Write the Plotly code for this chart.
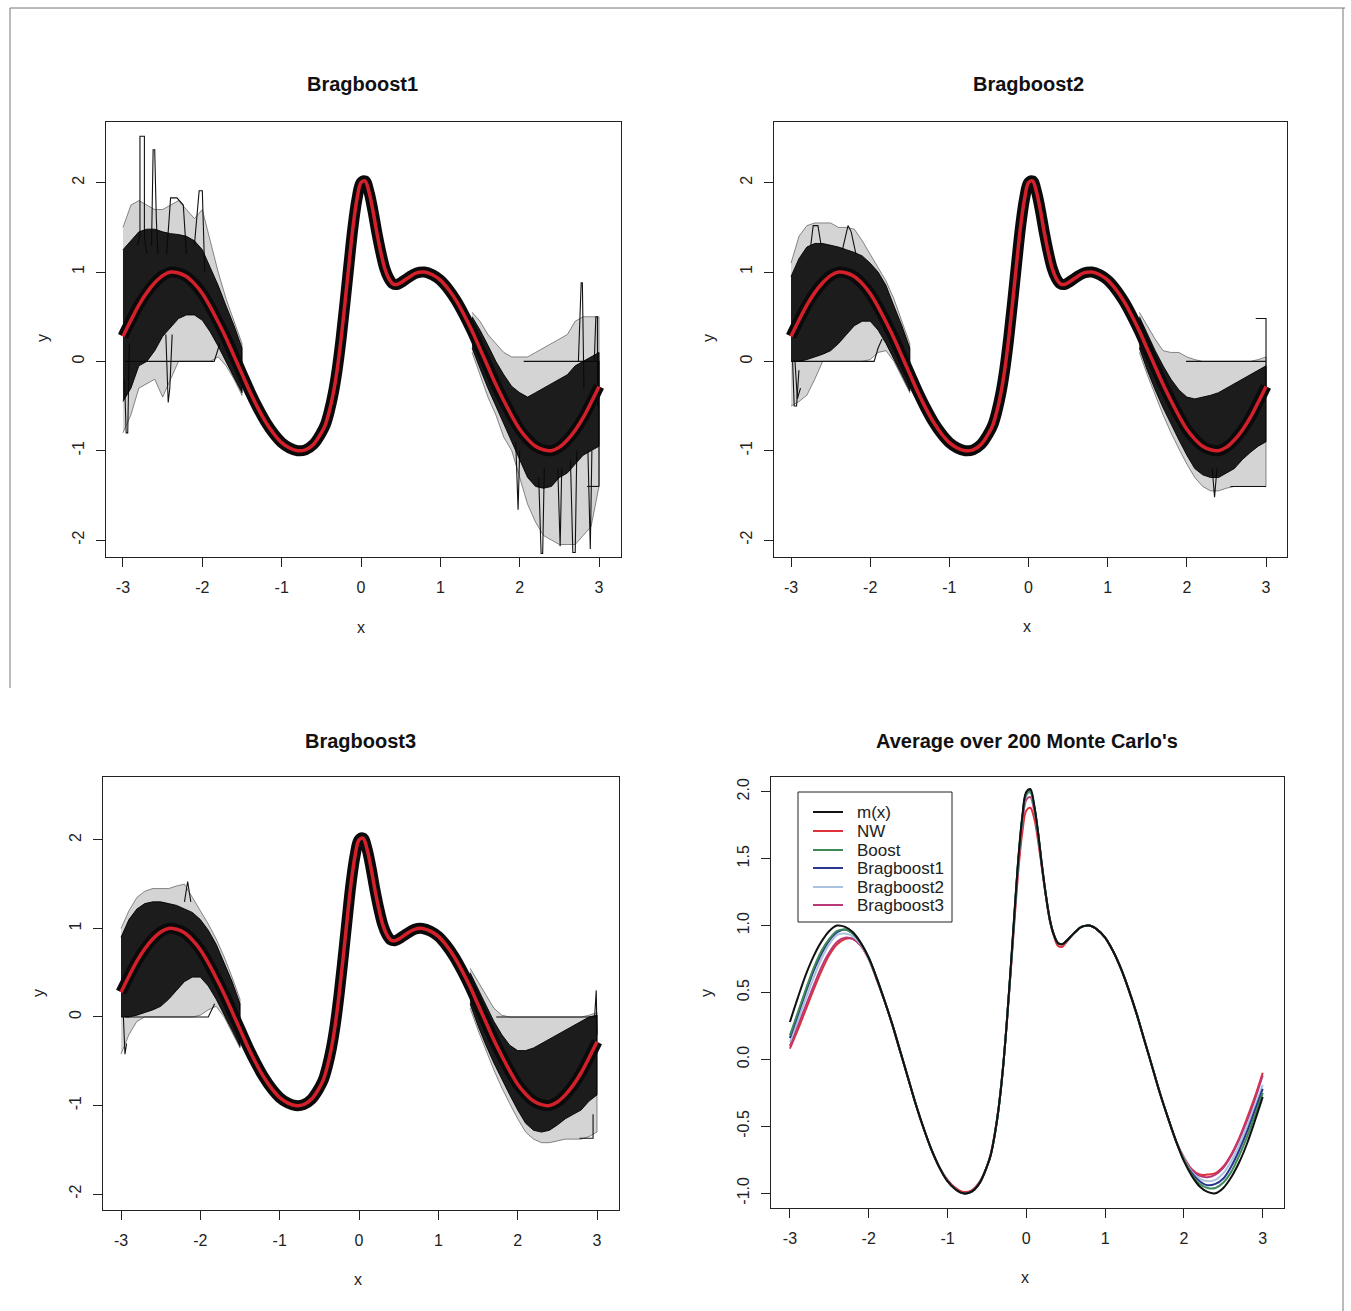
import plotly.graph_objects as go

# ---------------- data ----------------
x_grid = [-3.0, -2.9, -2.8, -2.7, -2.6, -2.5, -2.4, -2.3, -2.2, -2.1, -2.0, -1.9, -1.8, -1.7,
          -1.6, -1.5, -1.4, -1.3, -1.2, -1.1, -1.0, -0.9, -0.8, -0.7, -0.6,
          -0.5, -0.45, -0.4, -0.35, -0.3, -0.25, -0.2, -0.15, -0.1, -0.05, 0.0, 0.05, 0.1, 0.15,
          0.2, 0.25, 0.3, 0.35, 0.4, 0.45, 0.5,
          0.6, 0.7, 0.8, 0.9, 1.0, 1.1, 1.2, 1.3, 1.4, 1.5, 1.6, 1.7, 1.8, 1.9, 2.0, 2.1, 2.2,
          2.3, 2.4, 2.5, 2.6, 2.7, 2.8, 2.9, 3.0]

m_x = [0.28, 0.46, 0.63, 0.77, 0.88, 0.96, 1.00, 0.99, 0.95, 0.87, 0.76, 0.61, 0.44, 0.26,
       0.06, -0.14, -0.34, -0.52, -0.68, -0.81, -0.91, -0.97, -1.00, -0.99, -0.93,
       -0.80, -0.71, -0.56, -0.36, -0.09, 0.26, 0.67, 1.10, 1.51, 1.82, 2.00, 2.02, 1.90, 1.69,
       1.44, 1.22, 1.04, 0.93, 0.87, 0.86, 0.88,
       0.94, 0.99, 1.00, 0.97, 0.91, 0.81, 0.68, 0.52, 0.34, 0.14, -0.06, -0.26, -0.44, -0.61,
       -0.76, -0.87, -0.95, -0.99, -1.00, -0.96, -0.88, -0.77, -0.63, -0.46, -0.28]

nw = [0.08, 0.22, 0.37, 0.52, 0.66, 0.78, 0.86, 0.90, 0.90, 0.85, 0.75, 0.60, 0.44, 0.26,
      0.06, -0.14, -0.34, -0.52, -0.68, -0.81, -0.90, -0.96, -0.99, -0.98, -0.92,
      -0.80, -0.70, -0.55, -0.35, -0.08, 0.25, 0.64, 1.04, 1.42, 1.70, 1.86, 1.88, 1.80, 1.63,
      1.42, 1.21, 1.03, 0.92, 0.85, 0.84, 0.87,
      0.94, 0.99, 1.00, 0.97, 0.91, 0.81, 0.68, 0.52, 0.34, 0.14, -0.06, -0.26, -0.44, -0.61,
      -0.73, -0.82, -0.86, -0.86, -0.85, -0.80, -0.71, -0.59, -0.44, -0.28, -0.10]

boost = [0.18, 0.35, 0.52, 0.68, 0.81, 0.90, 0.96, 0.97, 0.94, 0.87, 0.76, 0.61, 0.44, 0.26,
         0.06, -0.14, -0.34, -0.52, -0.68, -0.81, -0.91, -0.97, -1.00, -0.99, -0.93,
         -0.80, -0.71, -0.56, -0.36, -0.09, 0.26, 0.66, 1.09, 1.50, 1.81, 1.98, 2.00, 1.89, 1.69,
         1.44, 1.22, 1.04, 0.93, 0.87, 0.86, 0.88,
         0.94, 0.99, 1.00, 0.97, 0.91, 0.81, 0.68, 0.52, 0.34, 0.14, -0.06, -0.26, -0.44, -0.61,
         -0.75, -0.86, -0.93, -0.96, -0.96, -0.92, -0.84, -0.72, -0.58, -0.42, -0.25]

brag1 = [0.16, 0.33, 0.50, 0.66, 0.79, 0.89, 0.95, 0.97, 0.94, 0.87, 0.76, 0.61, 0.44, 0.26,
         0.06, -0.14, -0.34, -0.52, -0.68, -0.81, -0.91, -0.97, -1.00, -0.99, -0.93,
         -0.80, -0.71, -0.56, -0.36, -0.09, 0.26, 0.66, 1.09, 1.50, 1.81, 1.99, 2.01, 1.89, 1.69,
         1.44, 1.22, 1.04, 0.93, 0.87, 0.86, 0.88,
         0.94, 0.99, 1.00, 0.97, 0.91, 0.81, 0.68, 0.52, 0.34, 0.14, -0.06, -0.26, -0.44, -0.61,
         -0.75, -0.85, -0.91, -0.94, -0.93, -0.89, -0.80, -0.68, -0.54, -0.38, -0.22]

brag2 = [0.13, 0.29, 0.45, 0.61, 0.75, 0.86, 0.93, 0.94, 0.92, 0.86, 0.75, 0.61, 0.44, 0.26,
         0.06, -0.14, -0.34, -0.52, -0.68, -0.81, -0.91, -0.97, -1.00, -0.99, -0.93,
         -0.80, -0.71, -0.56, -0.36, -0.09, 0.26, 0.66, 1.09, 1.49, 1.80, 1.97, 1.99, 1.88, 1.68,
         1.44, 1.22, 1.04, 0.93, 0.87, 0.86, 0.88,
         0.94, 0.99, 1.00, 0.97, 0.91, 0.81, 0.68, 0.52, 0.34, 0.14, -0.06, -0.26, -0.44, -0.61,
         -0.74, -0.84, -0.89, -0.91, -0.90, -0.85, -0.76, -0.64, -0.50, -0.35, -0.19]

brag3 = [0.10, 0.25, 0.40, 0.55, 0.69, 0.80, 0.88, 0.91, 0.90, 0.85, 0.75, 0.60, 0.44, 0.26,
         0.06, -0.14, -0.34, -0.52, -0.68, -0.81, -0.91, -0.97, -1.00, -0.99, -0.93,
         -0.80, -0.71, -0.56, -0.36, -0.09, 0.26, 0.65, 1.07, 1.47, 1.77, 1.94, 1.96, 1.86, 1.67,
         1.43, 1.22, 1.04, 0.93, 0.87, 0.86, 0.88,
         0.94, 0.99, 1.00, 0.97, 0.91, 0.81, 0.68, 0.52, 0.34, 0.14, -0.06, -0.26, -0.44, -0.61,
         -0.74, -0.83, -0.87, -0.88, -0.86, -0.81, -0.72, -0.60, -0.46, -0.30, -0.12]

# Monte Carlo band envelopes (dense core and sparse outer) at the two edges
band_left_x = [-3.0, -2.9, -2.8, -2.7, -2.6, -2.5, -2.4, -2.3, -2.2, -2.1, -2.0, -1.9, -1.8, -1.7, -1.6, -1.5]
band_right_x = [1.4, 1.5, 1.6, 1.7, 1.8, 1.9, 2.0, 2.1, 2.2, 2.3, 2.4, 2.5, 2.6, 2.7, 2.8, 2.9, 3.0]

p1_dense_left_hi = [1.25, 1.35, 1.45, 1.48, 1.48, 1.45, 1.43, 1.42, 1.40, 1.35, 1.25, 1.05, 0.85, 0.62, 0.40, 0.15]
p1_dense_left_lo = [-0.45, -0.30, -0.05, 0.0, 0.12, 0.28, 0.38, 0.48, 0.52, 0.52, 0.46, 0.33, 0.17, 0.0, -0.18, -0.35]
p1_sparse_left_hi = [1.50, 1.75, 1.80, 1.75, 1.70, 1.70, 1.75, 1.80, 1.70, 1.60, 1.70, 1.35, 1.00, 0.70, 0.45, 0.20]
p1_sparse_left_lo = [-0.80, -0.60, -0.30, -0.25, -0.20, -0.40, -0.20, 0.0, 0.0, 0.0, 0.0, 0.0, 0.05, -0.05, -0.20, -0.38]
p1_dense_right_hi = [0.50, 0.35, 0.18, 0.0, -0.15, -0.28, -0.35, -0.40, -0.35, -0.30, -0.25, -0.20, -0.15, -0.05, 0.0, 0.05, 0.10]
p1_dense_right_lo = [0.15, -0.08, -0.30, -0.50, -0.70, -0.88, -1.10, -1.30, -1.40, -1.42, -1.40, -1.30, -1.25, -1.15, -1.05, -1.00, -0.95]
p1_sparse_right_hi = [0.55, 0.45, 0.30, 0.20, 0.10, 0.05, 0.05, 0.05, 0.10, 0.15, 0.20, 0.25, 0.30, 0.45, 0.50, 0.50, 0.50]
p1_sparse_right_lo = [0.10, -0.15, -0.40, -0.60, -0.85, -1.00, -1.30, -1.60, -1.80, -1.95, -2.00, -2.05, -2.05, -2.05, -1.95, -1.85, -1.40]

p2_dense_left_hi = [0.95, 1.15, 1.28, 1.32, 1.32, 1.30, 1.28, 1.25, 1.22, 1.18, 1.10, 1.00, 0.85, 0.62, 0.40, 0.15]
p2_dense_left_lo = [0.0, 0.0, 0.02, 0.05, 0.08, 0.12, 0.20, 0.30, 0.40, 0.45, 0.45, 0.35, 0.20, 0.02, -0.15, -0.33]
p2_sparse_left_hi = [1.10, 1.40, 1.52, 1.55, 1.55, 1.55, 1.50, 1.50, 1.48, 1.35, 1.20, 1.05, 0.90, 0.70, 0.45, 0.20]
p2_sparse_left_lo = [-0.50, -0.45, -0.38, -0.20, 0.0, 0.0, 0.0, 0.0, 0.0, 0.0, 0.02, 0.10, 0.12, 0.0, -0.18, -0.35]
p2_dense_right_hi = [0.50, 0.30, 0.12, -0.05, -0.20, -0.32, -0.40, -0.42, -0.40, -0.38, -0.35, -0.30, -0.25, -0.20, -0.15, -0.10, -0.05]
p2_dense_right_lo = [0.15, -0.10, -0.32, -0.52, -0.70, -0.88, -1.05, -1.20, -1.27, -1.30, -1.30, -1.25, -1.20, -1.10, -1.02, -0.95, -0.90]
p2_sparse_right_hi = [0.55, 0.40, 0.25, 0.12, 0.10, 0.10, 0.05, 0.02, 0.0, 0.0, 0.0, 0.0, 0.0, 0.0, 0.0, 0.02, 0.05]
p2_sparse_right_lo = [0.10, -0.15, -0.38, -0.60, -0.80, -0.98, -1.15, -1.30, -1.40, -1.45, -1.45, -1.42, -1.40, -1.40, -1.40, -1.40, -1.40]

p3_dense_left_hi = [0.90, 1.10, 1.22, 1.28, 1.30, 1.30, 1.28, 1.26, 1.22, 1.18, 1.10, 0.98, 0.82, 0.62, 0.40, 0.15]
p3_dense_left_lo = [0.0, 0.0, 0.02, 0.05, 0.08, 0.12, 0.20, 0.30, 0.40, 0.45, 0.45, 0.35, 0.20, 0.02, -0.15, -0.33]
p3_sparse_left_hi = [1.00, 1.20, 1.35, 1.42, 1.45, 1.45, 1.45, 1.48, 1.50, 1.35, 1.20, 1.05, 0.88, 0.68, 0.45, 0.20]
p3_sparse_left_lo = [-0.42, -0.20, -0.05, 0.0, 0.0, 0.0, 0.0, 0.0, 0.0, 0.0, 0.02, 0.08, 0.12, 0.0, -0.18, -0.35]
p3_dense_right_hi = [0.50, 0.32, 0.14, -0.05, -0.20, -0.32, -0.38, -0.38, -0.35, -0.30, -0.25, -0.20, -0.15, -0.10, -0.05, 0.0, 0.02]
p3_dense_right_lo = [0.15, -0.10, -0.32, -0.52, -0.70, -0.88, -1.05, -1.20, -1.28, -1.30, -1.28, -1.22, -1.15, -1.10, -1.05, -0.95, -0.88]
p3_sparse_right_hi = [0.55, 0.40, 0.25, 0.10, 0.02, 0.0, 0.0, 0.0, 0.0, 0.0, 0.0, 0.0, 0.0, 0.0, 0.0, 0.02, 0.05]
p3_sparse_right_lo = [0.10, -0.15, -0.38, -0.60, -0.80, -0.98, -1.15, -1.30, -1.38, -1.42, -1.42, -1.40, -1.38, -1.38, -1.38, -1.35, -1.30]

# individual outlying Monte Carlo paths
p1_out_x = [[-2.97, -1.85, -1.78], [-2.82, -2.786, -2.786, -2.73, -2.73, -2.70],
            [-2.64, -2.62, -2.60, -2.58, -2.56], [-2.45, -2.40, -2.32, -2.24, -2.20],
            [-2.10, -2.04, -2.00, -1.97], [-2.98, -2.96, -2.94, -2.92], [-2.46, -2.43, -2.41, -2.38],
            [2.05, 3.0, 3.0], [2.85, 3.0], [2.74, 2.775, 2.79, 2.81], [2.24, 2.27, 2.29, 2.31],
            [2.48, 2.51, 2.53], [2.64, 2.67, 2.70, 2.72], [2.86, 2.89, 2.91], [1.95, 1.98, 2.0],
            [2.94, 2.96, 2.98, 2.98]]
p1_out_y = [[0.0, 0.0, 0.2], [1.3, 1.4, 2.52, 2.52, 1.4, 1.2],
            [1.3, 2.37, 2.37, 1.6, 1.2], [1.2, 1.83, 1.83, 1.75, 1.2],
            [1.3, 1.91, 1.91, 1.0], [-0.2, -0.8, -0.8, 0.2], [0.3, -0.46, -0.3, 0.3],
            [0.0, 0.0, -1.4], [-1.4, -1.4], [0.0, 0.88, 0.88, -0.3], [-1.3, -2.15, -2.15, -1.2],
            [-1.2, -2.07, -1.2], [-1.1, -2.14, -2.14, -1.0], [-1.0, -2.1, -1.0], [-0.9, -1.66, -1.0],
            [0.0, 0.5, 0.5, -0.5]]

p2_out_x = [[-2.97, -1.95, -1.90, -1.85], [-2.98, -2.96, -2.93, -2.90], [-2.95, -2.92, -2.88],
            [-2.75, -2.72, -2.66, -2.62], [-2.35, -2.28, -2.24, -2.18],
            [1.99, 3.0], [2.87, 3.0, 3.0], [2.55, 3.0], [2.32, 2.35, 2.38]]
p2_out_y = [[0.0, 0.0, 0.15, 0.25], [0.0, -0.5, -0.5, -0.1], [0.0, -0.42, -0.3],
            [1.3, 1.52, 1.52, 1.3], [1.25, 1.52, 1.45, 1.2],
            [0.0, 0.0], [0.48, 0.48, -0.3], [-1.4, -1.4], [-1.2, -1.52, -1.2]]

p3_out_x = [[-2.95, -1.90, -1.82], [-2.97, -2.95, -2.93], [-2.20, -2.16, -2.12],
            [1.73, 3.0], [2.97, 2.99, 3.0], [2.78, 2.95, 2.95]]
p3_out_y = [[0.0, 0.0, 0.15], [0.0, -0.42, -0.3], [1.3, 1.53, 1.3],
            [0.0, 0.0], [0.0, 0.3, -0.2], [-1.37, -1.37, -1.1]]

x_ticks = [-3, -2, -1, 0, 1, 2, 3]
x_ticktext = ["-3", "-2", "-1", "0", "1", "2", "3"]
y_ticks_mc = [-2, -1, 0, 1, 2]
y_ticktext_mc = ["-2", "-1", "0", "1", "2"]
y_ticks_avg = [-1.0, -0.5, 0.0, 0.5, 1.0, 1.5, 2.0]
y_ticktext_avg = ["-1.0", "-0.5", "0.0", "0.5", "1.0", "1.5", "2.0"]

titles = ["Bragboost1", "Bragboost2", "Bragboost3", "Average over 200 Monte Carlo's"]
legend_names = ["m(x)", "NW", "Boost", "Bragboost1", "Bragboost2", "Bragboost3"]
legend_colors = ["#111111", "#e0303a", "#3d8a55", "#2a3590", "#a9c3df", "#b83a78"]

# ---------------- layout geometry (pixels) ----------------
W, H = 1351, 1311
panels = [  # x0, x1, y0, y1 (pixel box), xrange, yrange
    (106, 621, 122, 557, [-3.214, 3.277], [-2.19, 2.68]),
    (774, 1287, 122, 557, [-3.215, 3.265], [-2.19, 2.68]),
    (103, 619, 777, 1210, [-3.227, 3.277], [-2.18, 2.71]),
    (771, 1284, 777, 1208, [-3.24, 3.27], [-1.11, 2.11]),
]

RED = "#d4202a"
FONT = "Liberation Sans, Arial, sans-serif"

fig = go.Figure()


def axnames(i):
    s = "" if i == 0 else str(i + 1)
    return "x" + s, "y" + s


def poly(xs, hi, lo):
    return xs + xs[::-1], hi + lo[::-1]


mc_sets = [
    (p1_dense_left_hi, p1_dense_left_lo, p1_sparse_left_hi, p1_sparse_left_lo,
     p1_dense_right_hi, p1_dense_right_lo, p1_sparse_right_hi, p1_sparse_right_lo, p1_out_x, p1_out_y),
    (p2_dense_left_hi, p2_dense_left_lo, p2_sparse_left_hi, p2_sparse_left_lo,
     p2_dense_right_hi, p2_dense_right_lo, p2_sparse_right_hi, p2_sparse_right_lo, p2_out_x, p2_out_y),
    (p3_dense_left_hi, p3_dense_left_lo, p3_sparse_left_hi, p3_sparse_left_lo,
     p3_dense_right_hi, p3_dense_right_lo, p3_sparse_right_hi, p3_sparse_right_lo, p3_out_x, p3_out_y),
]

for i, s in enumerate(mc_sets):
    xa, ya = axnames(i)
    dlh, dll, slh, sll, drh, drl, srh, srl, ox, oy = s
    # sparse outer envelopes
    for xs, hi, lo in [(band_left_x, slh, sll), (band_right_x, srh, srl)]:
        px, py = poly(xs, hi, lo)
        fig.add_trace(go.Scatter(x=px, y=py, fill="toself", fillcolor="rgba(0,0,0,0.17)",
                                 line=dict(width=0.8, color="rgba(0,0,0,0.55)"), mode="lines",
                                 showlegend=False, hoverinfo="skip", xaxis=xa, yaxis=ya))
    # outlier paths
    for xs, ys in zip(ox, oy):
        fig.add_trace(go.Scatter(x=xs, y=ys, mode="lines", line=dict(color="#111", width=1.1),
                                 showlegend=False, hoverinfo="skip", xaxis=xa, yaxis=ya))
    # dense core envelopes
    for xs, hi, lo in [(band_left_x, dlh, dll), (band_right_x, drh, drl)]:
        px, py = poly(xs, hi, lo)
        fig.add_trace(go.Scatter(x=px, y=py, fill="toself", fillcolor="rgba(8,8,8,0.9)",
                                 line=dict(width=1, color="rgba(0,0,0,0.9)"), mode="lines",
                                 showlegend=False, hoverinfo="skip", xaxis=xa, yaxis=ya))
    # narrow band of all curves around the mean
    fig.add_trace(go.Scatter(x=x_grid, y=m_x, mode="lines", line=dict(color="#0a0a0a", width=11, shape="spline"),
                             showlegend=False, hoverinfo="skip", xaxis=xa, yaxis=ya))
    fig.add_trace(go.Scatter(x=x_grid, y=m_x, mode="lines", line=dict(color=RED, width=3.5, shape="spline"),
                             showlegend=False, hoverinfo="skip", xaxis=xa, yaxis=ya))

# panel 4: averages (drawn so that m(x) is on top)
series = [
    ("NW", nw, legend_colors[1]),
    ("Bragboost3", brag3, legend_colors[5]),
    ("Bragboost2", brag2, legend_colors[4]),
    ("Bragboost1", brag1, legend_colors[3]),
    ("Boost", boost, legend_colors[2]),
    ("m(x)", m_x, legend_colors[0]),
]
for name, ys, col in series:
    fig.add_trace(go.Scatter(x=x_grid, y=ys, mode="lines", name=name, showlegend=False,
                             line=dict(color=col, width=2, shape="spline"),
                             xaxis="x4", yaxis="y4"))

layout = dict(width=W, height=H, margin=dict(l=0, r=0, t=0, b=0), autosize=False,
              paper_bgcolor="white", plot_bgcolor="white", showlegend=False,
              font=dict(family=FONT, color="#222"))

axis_common = dict(showline=True, mirror=True, linecolor="#222", linewidth=1, ticks="outside",
                   ticklen=9, tickcolor="#222", tickwidth=1, showgrid=False, zeroline=False,
                   tickfont=dict(family=FONT, size=16, color="#222"))

for i, (x0, x1, y0, y1, xr, yr) in enumerate(panels):
    xa, ya = axnames(i)
    xk = "xaxis" if i == 0 else "xaxis" + str(i + 1)
    yk = "yaxis" if i == 0 else "yaxis" + str(i + 1)
    layout[xk] = dict(axis_common, domain=[x0 / W, x1 / W], range=xr, anchor=ya,
                      tickvals=x_ticks, ticktext=x_ticktext, ticklabelstandoff=7)
    if i < 3:
        ydict = dict(tickvals=y_ticks_mc, ticktext=y_ticktext_mc)
    else:
        ydict = dict(tickvals=y_ticks_avg, ticktext=y_ticktext_avg)
    layout[yk] = dict(axis_common, domain=[1 - y1 / H, 1 - y0 / H], range=yr, anchor=xa,
                      tickangle=-90, ticklabelstandoff=6, **ydict)

annotations = []
title_pos = [(362, 84), (1028, 84), (360, 741), (1027, 741)]
for t, (px, py) in zip(titles, title_pos):
    annotations.append(dict(text="<b>" + t + "</b>", x=px / W, y=1 - py / H, xref="paper", yref="paper",
                            showarrow=False, font=dict(family=FONT, size=20, color="#111"),
                            xanchor="center", yanchor="middle"))
xlab_pos = [(361, 627), (1027, 626), (358, 1279), (1025, 1277)]
for px, py in xlab_pos:
    annotations.append(dict(text="x", x=px / W, y=1 - py / H, xref="paper", yref="paper",
                            showarrow=False, font=dict(family=FONT, size=16, color="#222"),
                            xanchor="center", yanchor="middle"))
ylab_pos = [(42, 338), (708, 338), (38, 993), (706, 993)]
for px, py in ylab_pos:
    annotations.append(dict(text="y", x=px / W, y=1 - py / H, xref="paper", yref="paper",
                            showarrow=False, textangle=-90, font=dict(family=FONT, size=16, color="#222"),
                            xanchor="center", yanchor="middle"))

# legend of the averages panel (box, line keys, labels)
leg_x0, leg_x1, leg_y0, leg_y1 = 798, 952, 792, 922
leg_rows = [812, 831, 850, 868, 887, 905]
shapes = [dict(type="rect", xref="paper", yref="paper", x0=leg_x0 / W, x1=leg_x1 / W,
               y0=1 - leg_y1 / H, y1=1 - leg_y0 / H, line=dict(color="#222", width=1),
               fillcolor="white", layer="above")]
for name, col, ry in zip(legend_names, legend_colors, leg_rows):
    shapes.append(dict(type="line", xref="paper", yref="paper", x0=813 / W, x1=843 / W,
                       y0=1 - ry / H, y1=1 - ry / H, line=dict(color=col, width=2), layer="above"))
    annotations.append(dict(text=name, x=855 / W, y=1 - ry / H, xref="paper", yref="paper",
                            showarrow=False, font=dict(family=FONT, size=17, color="#222"),
                            xanchor="left", yanchor="middle"))

# scanned page border
shapes += [
    dict(type="line", xref="paper", yref="paper", x0=10 / W, x1=1345 / W, y0=1 - 8 / H, y1=1 - 8 / H,
         line=dict(color="#777", width=1)),
    dict(type="line", xref="paper", yref="paper", x0=10 / W, x1=10 / W, y0=1 - 8 / H, y1=1 - 688 / H,
         line=dict(color="#777", width=1)),
    dict(type="line", xref="paper", yref="paper", x0=1343 / W, x1=1343 / W, y0=1 - 8 / H, y1=0,
         line=dict(color="#777", width=1)),
]
layout["annotations"] = annotations
layout["shapes"] = shapes

fig.update_layout(**layout)
fig.write_html("out.html")
